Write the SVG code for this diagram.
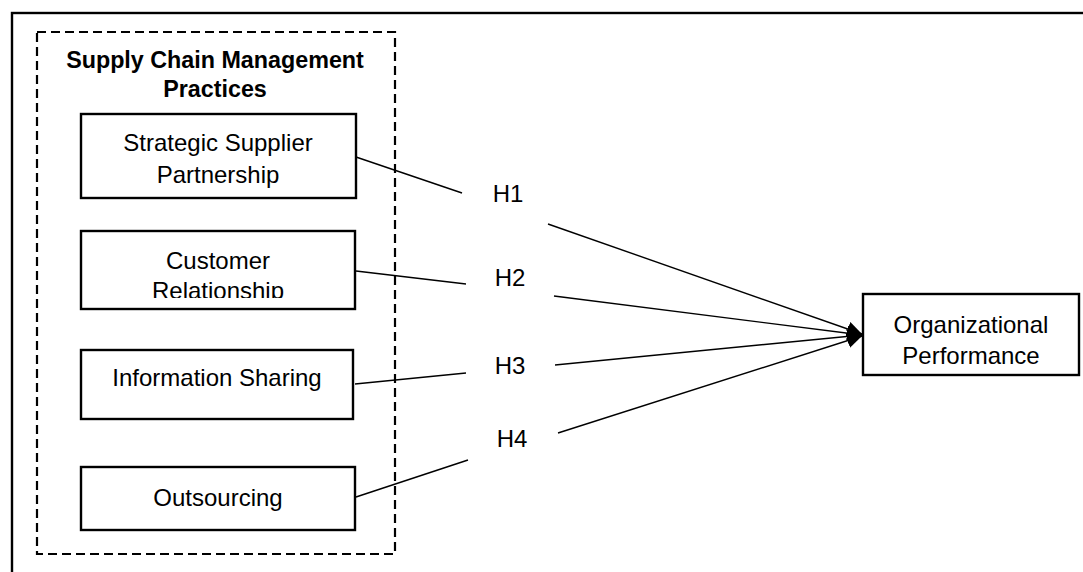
<svg xmlns="http://www.w3.org/2000/svg" width="1083" height="572" viewBox="0 0 1083 572">
<style>
text{font-family:"Liberation Sans",Arial,sans-serif;font-size:24px;fill:#000;text-anchor:middle}
.t{font-weight:bold;font-size:23.3px}
.box{fill:#fff;stroke:#000;stroke-width:2.4}
.c{stroke:#000;stroke-width:1.4;fill:none}
</style>
<defs>
<marker id="ah" viewBox="0 0 10 10" refX="10" refY="5" markerWidth="15" markerHeight="15" markerUnits="userSpaceOnUse" orient="auto">
<path d="M0,0 L10,5 L0,10 z" fill="#000"/>
</marker>
<clipPath id="clip2"><rect x="81" y="231" width="274" height="67"/></clipPath>
</defs>
<rect width="1083" height="572" fill="#fff"/>
<rect x="12" y="13" width="1100" height="600" fill="none" stroke="#000" stroke-width="2.4"/>
<g id="group-scm">
<rect x="37" y="32" width="358" height="522" fill="none" stroke="#000" stroke-width="2.2" stroke-dasharray="9,5"/>
<text class="t" x="215" y="68">Supply Chain Management</text>
<text class="t" x="215" y="97">Practices</text>
</g>
<g id="connectors">
<line class="c" x1="356" y1="157" x2="462" y2="193"/>
<line class="c" x1="548" y1="224" x2="862" y2="334" marker-end="url(#ah)"/>
<line class="c" x1="356" y1="271" x2="466" y2="284"/>
<line class="c" x1="554" y1="296" x2="862" y2="335" marker-end="url(#ah)"/>
<line class="c" x1="355" y1="384" x2="466" y2="373"/>
<line class="c" x1="555" y1="365" x2="862" y2="335" marker-end="url(#ah)"/>
<line class="c" x1="356" y1="497" x2="468" y2="460"/>
<line class="c" x1="558" y1="433" x2="862" y2="336" marker-end="url(#ah)"/>
<text x="508" y="202">H1</text>
<text x="510" y="286">H2</text>
<text x="510" y="374">H3</text>
<text x="512" y="447">H4</text>
</g>
<g id="ssp">
<rect class="box" x="81" y="114" width="275" height="84"/>
<text x="218" y="151">Strategic Supplier</text>
<text x="218" y="183">Partnership</text>
</g>
<g id="cr">
<rect class="box" x="81" y="231" width="274" height="78"/>
<g clip-path="url(#clip2)">
<text x="218" y="269">Customer</text>
<text x="218" y="299">Relationship</text>
</g>
</g>
<g id="is">
<rect class="box" x="81" y="350" width="272" height="69"/>
<text x="217" y="386">Information Sharing</text>
</g>
<g id="os">
<rect class="box" x="81" y="467" width="274" height="63"/>
<text x="218" y="506">Outsourcing</text>
</g>
<g id="op">
<rect class="box" x="863" y="294" width="216" height="81"/>
<text x="971" y="333">Organizational</text>
<text x="971" y="364">Performance</text>
</g>
</svg>
